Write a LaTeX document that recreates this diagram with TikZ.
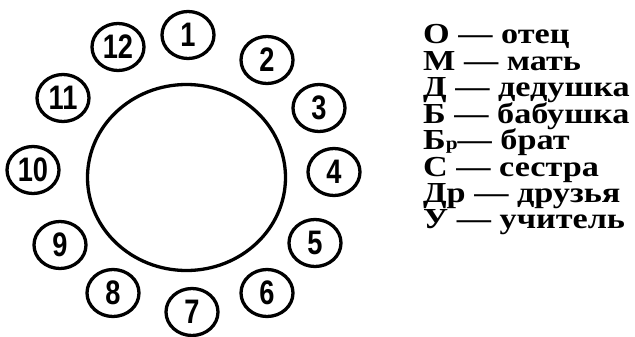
\documentclass[tikz,border=0pt]{standalone}
\usepackage{fontspec}
\setmainfont{DejaVu Serif}
\newfontfamily\legendfont[FakeStretch=1.18]{Liberation Serif}
\newfontfamily\digitfont[FakeStretch=0.8]{Liberation Sans}
\usetikzlibrary{shapes.geometric,positioning}

\begin{document}
\begin{tikzpicture}[x=1pt, y=-1pt,
    ring/.style={draw, ellipse, line width=3.3pt, inner sep=0pt},
    place/.style={ring, minimum width=52pt, minimum height=47pt,
      font=\digitfont\bfseries\fontsize{34}{34}\selectfont},
    legend/.style={anchor=base west, inner sep=0pt,
      font=\legendfont\bfseries\fontsize{29}{29}\selectfont}]
  \useasboundingbox (0,0) rectangle (635,337);

  \node (table) [ring, minimum width=198pt, minimum height=186pt] at (186.5,177.5) {};

  % places round the table
  \foreach \n/\x/\y in {1/188/35, 2/267/60, 3/319/108, 4/334/172,
      5/315/243, 6/267/293, 7/192/312, 8/113/293, 9/60/245,
      10/33/170, 11/63/98, 12/118/47}
    \node (p\n) [place] at (\x,\y) {\n};

  % legend
  \node (o) [legend] at (423,44) {О — отец};
  \node (m) [legend] at ([yshift=-26.4pt]o.base west) {М — мать};
  \node (d) [legend] at ([yshift=-26.4pt]m.base west) {Д — дедушка};
  \node (b) [legend] at ([yshift=-26.4pt]d.base west) {Б — бабушка};
  \node (br) [legend] at ([yshift=-26.4pt]b.base west)
    {Б{\fontsize{18}{18}\selectfont р}— брат};
  \node (s) [legend] at ([yshift=-26.4pt]br.base west) {С — сестра};
  \node (dr) [legend] at ([yshift=-26.4pt]s.base west) {Др — друзья};
  \node (u) [legend] at ([yshift=-26.4pt]dr.base west) {У — учитель};
\end{tikzpicture}
\end{document}
